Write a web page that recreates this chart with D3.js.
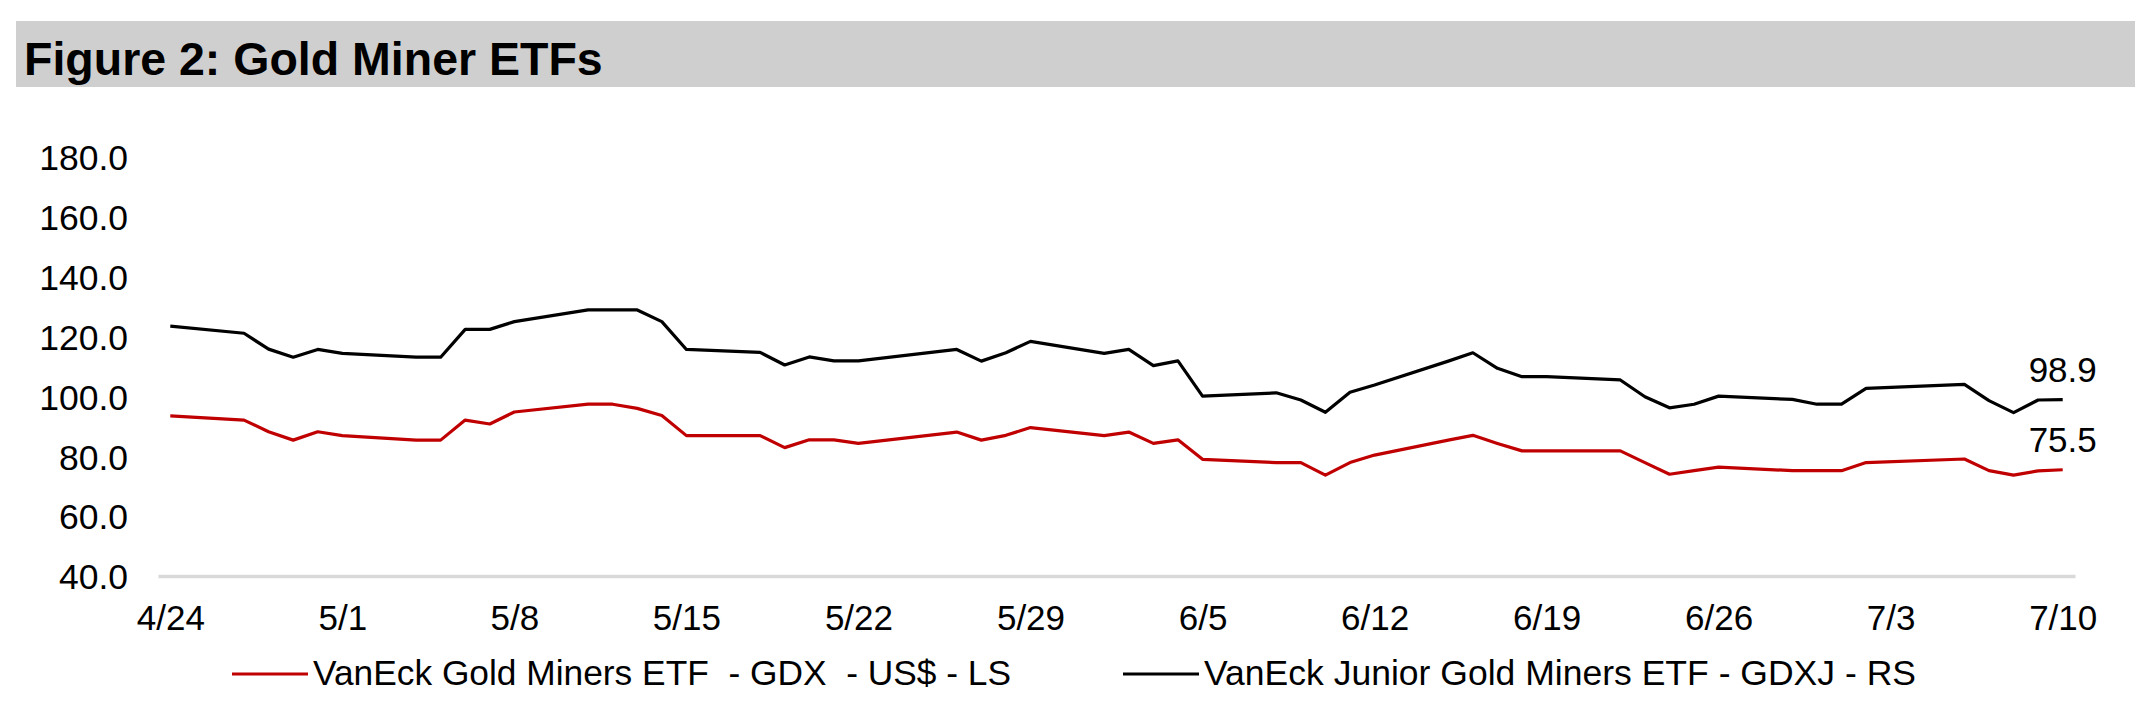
<!DOCTYPE html>
<html><head><meta charset="utf-8">
<script src="https://cdn.jsdelivr.net/npm/d3@7"></script>
<style>
body{margin:0;background:#fff}
svg{display:block}
text{font-family:"Liberation Sans",Arial,Helvetica,sans-serif;fill:#000}
</style>
</head><body>
<svg id="chart" width="2150" height="704"></svg>
<script>
// ---- data ----
const titleText = "Figure 2: Gold Miner ETFs";
const dates = [
 "2020-04-24","2020-04-27","2020-04-28","2020-04-29","2020-04-30","2020-05-01",
 "2020-05-04","2020-05-05","2020-05-06","2020-05-07","2020-05-08",
 "2020-05-11","2020-05-12","2020-05-13","2020-05-14","2020-05-15",
 "2020-05-18","2020-05-19","2020-05-20","2020-05-21","2020-05-22",
 "2020-05-26","2020-05-27","2020-05-28","2020-05-29",
 "2020-06-01","2020-06-02","2020-06-03","2020-06-04","2020-06-05",
 "2020-06-08","2020-06-09","2020-06-10","2020-06-11","2020-06-12",
 "2020-06-15","2020-06-16","2020-06-17","2020-06-18","2020-06-19",
 "2020-06-22","2020-06-23","2020-06-24","2020-06-25","2020-06-26",
 "2020-06-29","2020-06-30","2020-07-01","2020-07-02",
 "2020-07-06","2020-07-07","2020-07-08","2020-07-09","2020-07-10"
];
const gdx = [
 93.5,92.1,88.2,85.4,88.2,86.9,
 85.4,85.4,92.1,90.8,94.8,
 97.4,97.4,96.0,93.6,86.9,
 86.9,82.9,85.5,85.5,84.3,
 88.1,85.4,87.0,89.6,
 86.9,88.1,84.3,85.5,79.0,
 77.9,77.9,73.7,77.9,80.4,
 85.4,87.0,84.3,81.8,81.8,
 81.8,77.9,74.0,75.2,76.4,
 75.2,75.2,75.2,77.9,
 79.1,75.2,73.7,75.1,75.5
];
const gdxj = [
 123.5,121.1,115.8,113.1,115.7,114.4,
 113.1,113.1,122.4,122.4,125.0,
 128.9,128.9,128.9,125.0,115.7,
 114.7,110.5,113.2,111.9,111.9,
 115.7,111.8,114.6,118.4,
 114.4,115.7,110.3,111.9,100.1,
 101.2,98.8,94.7,101.4,103.8,
 111.8,114.6,109.4,106.6,106.6,
 105.5,99.9,96.2,97.4,100.1,
 99.0,97.4,97.4,102.7,
 104.0,98.6,94.6,98.8,98.9
];
const yTicks = [40,60,80,100,120,140,160,180];
const xTickDates = ["2020-04-24","2020-05-01","2020-05-08","2020-05-15","2020-05-22","2020-05-29",
 "2020-06-05","2020-06-12","2020-06-19","2020-06-26","2020-07-03","2020-07-10"];
const seriesNames = ["VanEck Gold Miners ETF  - GDX  - US$ - LS","VanEck Junior Gold Miners ETF - GDXJ - RS"];
const seriesColors = ["#C00000","#000000"];

// ---- drawing ----
const svg = d3.select("#chart");
const parse = d3.utcParse("%Y-%m-%d");
const fmtX = d3.utcFormat("%-m/%-d");
const DAY = 864e5;
const d0 = parse(dates[0]), d1 = parse(dates[dates.length-1]);

const x = d3.scaleUtc().domain([new Date(+d0 - DAY/2), new Date(+d1 + DAY/2)]).range([158, 2075]);
const y = d3.scaleLinear().domain([40,180]).range([576,157]);

// title bar
svg.append("rect").attr("x",16).attr("y",21).attr("width",2119).attr("height",66).attr("fill","#D0CFD0");
svg.append("text").attr("x",24).attr("y",75).attr("font-size",46.5).attr("font-weight","bold").text(titleText);

// y axis labels
const yAxis = d3.axisLeft(y).tickValues(yTicks).tickFormat(d3.format(".1f")).tickSize(0).tickPadding(0);
const gy = svg.append("g").attr("transform","translate(128,0)").call(yAxis);
gy.select(".domain").remove();
gy.selectAll("text").attr("font-size",35.5).attr("font-family",null).attr("fill","#000").attr("dy","0.36em");

// x axis
const xAxis = d3.axisBottom(x).tickValues(xTickDates.map(parse)).tickFormat(fmtX).tickSize(0).tickPadding(0);
const gx = svg.append("g").attr("transform","translate(0,576)").call(xAxis);
gx.select(".domain").attr("stroke","#D9D9D9").attr("stroke-width",3.5);
gx.selectAll("text").attr("font-size",35).attr("font-family",null).attr("fill","#000").attr("dy",null).attr("y",54);

// lines
const series = [gdx, gdxj];
const line = d3.line().x((d,i)=>x(parse(dates[i]))).y(d=>y(d));
series.forEach((s,k)=>{
  svg.append("path").datum(s).attr("d",line).attr("fill","none")
    .attr("stroke",seriesColors[k]).attr("stroke-width",3.2).attr("stroke-linejoin","round");
});

// end labels
series.forEach((s,k)=>{
  const last = s[s.length-1];
  svg.append("text").attr("x",x(d1)).attr("y",y(last)-18).attr("text-anchor","middle")
    .attr("font-size",35).text(d3.format(".1f")(last));
});

// legend
const legX = [232, 1123];
const legLen = [698, 712];
seriesNames.forEach((n,k)=>{
  svg.append("line").attr("x1",legX[k]).attr("x2",legX[k]+76).attr("y1",674).attr("y2",674)
    .attr("stroke",seriesColors[k]).attr("stroke-width",3.2);
  svg.append("text").attr("x",legX[k]+81).attr("y",685).attr("font-size",34.5)
    .attr("textLength",legLen[k]).attr("lengthAdjust","spacingAndGlyphs")
    .style("white-space","pre").text(n);
});
</script>
</body></html>
